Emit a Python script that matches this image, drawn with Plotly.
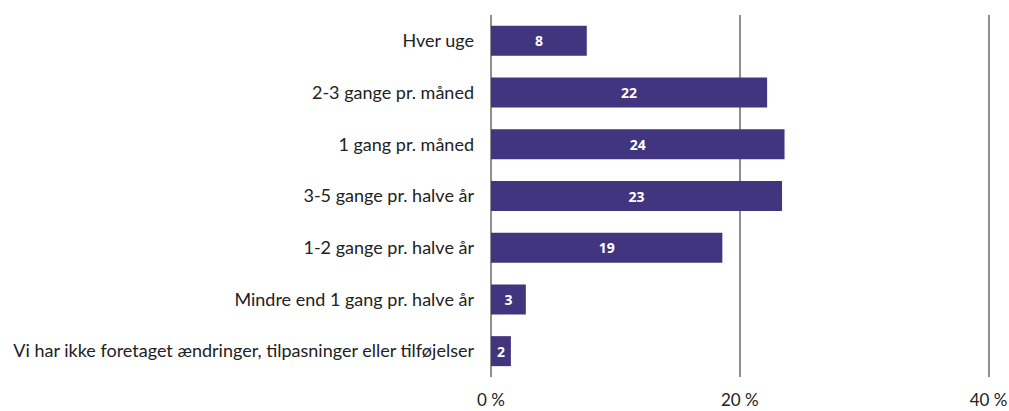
import plotly.graph_objects as go

categories = [
    "Hver uge",
    "2-3 gange pr. måned",
    "1 gang pr. måned",
    "3-5 gange pr. halve år",
    "1-2 gange pr. halve år",
    "Mindre end 1 gang pr. halve år",
    "Vi har ikke foretaget ændringer, tilpasninger eller tilføjelser",
]
values = [7.7, 22.2, 23.6, 23.4, 18.6, 2.8, 1.6]
labels = ["8", "22", "24", "23", "19", "3", "2"]
tick_vals = [0, 20, 40]
tick_text = ["0 %", "20 %", "40 %"]

FONT = "Lato"

fig = go.Figure(
    go.Bar(
        x=values,
        y=categories,
        orientation="h",
        marker=dict(color="#42357F", line=dict(width=0)),
        width=0.58,
        text=labels,
        textposition="inside",
        insidetextanchor="middle",
        textangle=0,
        constraintext="none",
        textfont=dict(color="white", size=14, family="Noto Sans", weight="bold"),
        hoverinfo="skip",
    )
)

fig.update_layout(
    width=1009,
    height=411,
    margin=dict(l=491, r=18, t=15, b=34),
    paper_bgcolor="white",
    plot_bgcolor="white",
    showlegend=False,
    font=dict(family=FONT, size=18, color="#222222"),
    xaxis=dict(
        range=[0, 40.2],
        tickvals=tick_vals,
        ticktext=tick_text,
        showgrid=True,
        gridcolor="#8f8f8f",
        gridwidth=2,
        zeroline=True,
        zerolinecolor="#8f8f8f",
        zerolinewidth=2,
        showline=False,
        ticks="",
        ticklabelstandoff=11,
        automargin=False,
        tickfont=dict(size=17, color="#222222", family=FONT),
        fixedrange=True,
    ),
    yaxis=dict(
        autorange="reversed",
        showgrid=False,
        zeroline=False,
        showline=False,
        ticks="",
        ticklabelstandoff=16,
        automargin=False,
        tickfont=dict(size=18, color="#222222", family=FONT),
        fixedrange=True,
    ),
)

fig.write_html(
    "out.html",
    config={"displayModeBar": False},
    post_script="document.body.style.margin='0';document.body.style.overflow='hidden';",
)
